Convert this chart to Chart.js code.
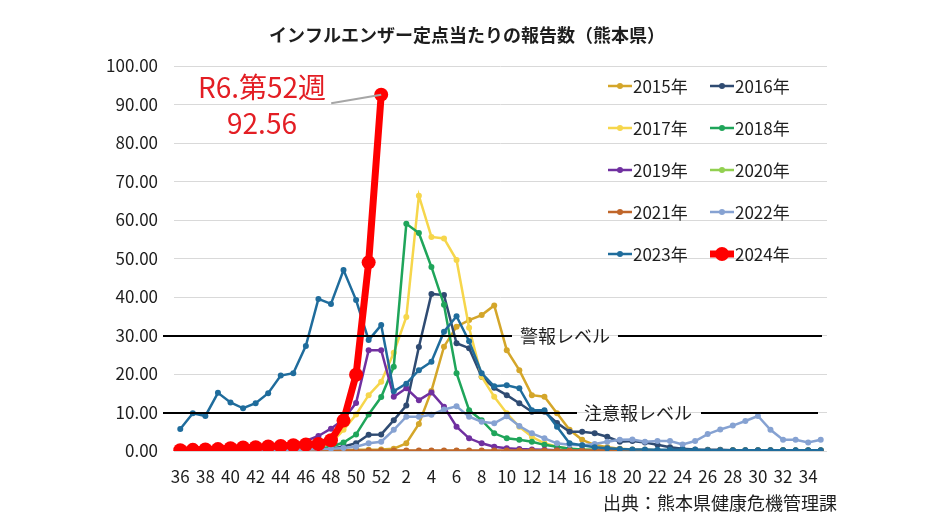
<!DOCTYPE html>
<html lang="ja">
<head>
<meta charset="utf-8">
<title>インフルエンザー定点当たりの報告数（熊本県）</title>
<script src="https://cdn.jsdelivr.net/npm/chart.js@4.4.1/dist/chart.umd.min.js"></script>
<style>
html,body{margin:0;padding:0;background:#ffffff;}
#wrap{position:relative;width:934px;height:525px;}
</style>
</head>
<body>
<div id="wrap"><canvas id="c"></canvas></div>
<script>
// ---------------- DATA ----------------
const TITLE = 'インフルエンザー定点当たりの報告数（熊本県）';
const SOURCE = '出典：熊本県健康危機管理課';
const weeks = [36,37,38,39,40,41,42,43,44,45,46,47,48,49,50,51,52,
  1,2,3,4,5,6,7,8,9,10,11,12,13,14,15,16,17,18,19,20,21,22,23,24,25,26,27,28,29,30,31,32,33,34,35];
const seriesNames = ['2015年','2016年','2017年','2018年','2019年','2020年','2021年','2022年','2023年','2024年'];

const y2015 = [0.1,0.1,0.1,0.1,0.1,0.1,0.1,0.1,0.1,0.1,0.1, 0.2,0.2,0.2,0.3,0.3,0.4,
  0.6,2.0,7.0,15.6,27.1,32.3,34.0,35.3,37.8,26.2,
  21.0,14.5,14.1,9.8,5.5,2.9,1.6,1.0,0.6,0.4,
  0.3,0.2,0.2,0.1,0.1,0.1,0.1,0.1,0.1,0.1, 0.1,0.1,0.1,0.1,0.1];
const y2016 = [0.1,0.1,0.1,0.1,0.1,0.1,0.1,0.2,0.2,0.2,0.3, 0.4,0.6,1.2,2.0,4.2,4.3,
  8.0,11.8,27.0,40.8,40.5,28.0,26.7,19.3,16.4,14.5,
  12.4,10.2,10.2,7.3,5.0,5.0,4.6,3.7,2.4,2.6,
  2.2,1.6,1.0,0.6,0.4,0.3,0.3,0.2,0.2,0.2, 0.2,0.2,0.1,0.1,0.1];
const y2017 = [0.1,0.1,0.1,0.1,0.1,0.1,0.2,0.2,0.3,0.4,0.6, 1.0,2.0,5.5,9.5,14.5,18.0,
  25.5,34.8,66.3,55.6,55.2,49.6,32.0,19.3,14.1,9.8,
  6.3,3.7,2.0,1.1,0.6,0.4,0.3,0.2,0.2,0.1,
  0.1,0.1,0.1,0.1,0.1,0.1,0.1,0.1,0.1,0.1, 0.1,0.1,0.1,0.1,0.1];
const y2018 = [0.1,0.1,0.1,0.1,0.1,0.1,0.1,0.2,0.2,0.2,0.3, 0.5,1.1,2.2,4.3,9.5,14.0,
  21.9,59.0,56.6,47.8,38.0,20.2,10.6,8.0,4.6,3.3,
  2.9,2.4,1.6,1.1,0.6,0.4,0.3,0.2,0.2,0.1,
  0.1,0.1,0.1,0.1,0.1,0.1,0.1,0.1,0.1,0.1, 0.1,0.1,0.1,0.1,0.1];
const y2019 = [0.2,0.2,0.3,0.3,0.4,0.5,0.6,0.8,1.0,1.6,2.6, 3.9,5.8,8.2,12.5,26.2,26.2,
  14.1,16.3,13.2,15.2,11.5,6.3,3.3,2.0,1.1,0.7,
  0.5,0.4,0.3,0.2,0.2,0.1,0.1,0.1,0.1,0.1,
  0.0,0.0,0.0,0.0,0.0,0.0,0.0,0.0,0.0,0.0, 0.0,0.0,0.0,0.0,0.0];
const y2020 = [0.0,0.0,0.0,0.0,0.0,0.0,0.0,0.0,0.0,0.0,0.0, 0.0,0.0,0.0,0.0,0.0,0.0,
  0.0,0.0,0.0,0.0,0.0,0.0,0.0,0.0,0.0,0.0,
  0.0,0.0,0.0,0.0,0.0,0.0,0.0,0.0,0.0,0.0,
  0.0,0.0,0.0,0.0,0.0,0.0,0.0,0.0,0.0,0.0, 0.0,0.0,0.0,0.0,0.0];
const y2021 = [0.1,0.1,0.1,0.1,0.1,0.1,0.1,0.1,0.1,0.1,0.1, 0.1,0.1,0.1,0.1,0.1,0.1,
  0.1,0.1,0.1,0.1,0.1,0.1,0.1,0.1,0.1,0.1,
  0.1,0.1,0.1,0.1,0.1,0.1,0.1,0.1,0.1,0.1,
  0.1,0.1,0.1,0.1,0.1,0.1,0.1,0.1,0.1,0.1, 0.1,0.1,0.1,0.1,0.1];
const y2022 = [0.1,0.1,0.1,0.1,0.2,0.2,0.2,0.2,0.3,0.3,0.4, 0.5,0.6,0.8,1.1,2.0,2.4,
  5.5,8.9,8.9,9.4,10.8,11.6,8.9,7.6,7.2,9.0,
  6.5,4.6,3.3,2.0,1.6,1.5,1.8,2.4,2.9,3.0,
  2.4,2.6,2.6,1.7,2.6,4.4,5.6,6.6,7.8,9.1, 5.5,2.9,2.9,2.2,2.9];
const y2023 = [5.7,9.8,9.1,15.1,12.6,11.1,12.4,15.0,19.6,20.2,27.3, 39.5,38.2,47.0,39.2,28.8,32.7,
  15.5,17.5,21.0,23.2,31.0,35.0,28.5,20.2,16.8,17.1,
  16.3,10.6,10.6,6.3,2.0,1.5,1.0,0.7,0.5,0.4,
  0.4,0.3,0.3,0.3,0.3,0.2,0.2,0.2,0.2,0.2, 0.2,0.2,0.2,0.2,0.2];
const y2024 = [0.2,0.3,0.4,0.5,0.7,0.9,1.0,1.2,1.3,1.5,1.7, 1.8,2.8,7.9,19.8,49.0,92.56];

const ALERT_LEVEL = 30;
const ALERT_LABEL = '警報レベル';
const WARN_LEVEL = 10;
const WARN_LABEL = '注意報レベル';
const NOTE_LINE1 = 'R6.第52週';
const NOTE_LINE2 = '92.56';

// ---------------- STYLE ----------------
const FONT = '"Noto Sans CJK JP", "Noto Sans", sans-serif';
const TEXT = '#1e1e1e';
const seriesValues = [y2015,y2016,y2017,y2018,y2019,y2020,y2021,y2022,y2023,y2024];
const seriesColors = ['#D4A62A','#2F4B72','#F6D64B','#1FA55A','#7030A0','#92D050','#C0662A','#86A2D2','#1F6C9C','#FF0000'];

const datasets = seriesNames.map((name, i) => {
  const big = i === seriesNames.length - 1;
  return {
    label: name,
    data: seriesValues[i],
    borderColor: seriesColors[i],
    backgroundColor: seriesColors[i],
    pointBackgroundColor: seriesColors[i],
    pointBorderColor: seriesColors[i],
    borderWidth: big ? 7 : 2.5,
    pointRadius: big ? 7 : 3,
    pointBorderWidth: 0,
    tension: 0,
    order: seriesNames.length - 1 - i
  };
});

const overlay = {
  id: 'overlay',
  afterDatasetsDraw(chart) {
    const ctx = chart.ctx;
    const ys = chart.scales.y, xs = chart.scales.x;
    ctx.save();
    // reference levels
    ctx.strokeStyle = '#000';
    ctx.lineWidth = 2;
    ctx.font = '18px ' + FONT;
    ctx.fillStyle = TEXT;
    ctx.textBaseline = 'middle';
    ctx.textAlign = 'left';
    const seg = (x1, x2, y) => { ctx.beginPath(); ctx.moveTo(x1, y); ctx.lineTo(x2, y); ctx.stroke(); };
    const yA = Math.round(ys.getPixelForValue(ALERT_LEVEL));
    const wA = ctx.measureText(ALERT_LABEL).width;
    seg(163, 512, yA); ctx.fillText(ALERT_LABEL, 520, yA); seg(520 + wA + 8, 822, yA);
    const yW = Math.round(ys.getPixelForValue(WARN_LEVEL));
    const wW = ctx.measureText(WARN_LABEL).width;
    seg(163, 577, yW); ctx.fillText(WARN_LABEL, 584, yW); seg(584 + wW + 9, 818, yW);

    // legend (2 columns x 5 rows, inside plot)
    ctx.font = '17px ' + FONT;
    chart.data.datasets.forEach((ds, i) => {
      const col = i % 2, row = Math.floor(i / 2);
      const x = 608 + col * 102, y = 86 + row * 42;
      ctx.strokeStyle = ds.borderColor;
      ctx.fillStyle = ds.borderColor;
      ctx.lineWidth = ds.borderWidth;
      seg(x, x + 24, y);
      ctx.beginPath(); ctx.arc(x + 12, y, ds.pointRadius, 0, Math.PI * 2); ctx.fill();
      ctx.fillStyle = TEXT;
      ctx.fillText(ds.label, x + 25, y + 1);
    });

    // annotation of latest value
    const last = y2024.length - 1;
    const px = xs.getPixelForValue(last), py = ys.getPixelForValue(y2024[last]);
    ctx.strokeStyle = '#A6A6A6';
    ctx.lineWidth = 2;
    ctx.beginPath(); ctx.moveTo(px - 50, py + 8.5); ctx.lineTo(px, py); ctx.stroke();
    ctx.fillStyle = '#E31E24';
    ctx.font = '28px ' + FONT;
    ctx.textAlign = 'center';
    ctx.fillText(NOTE_LINE1, 262, 87);
    ctx.fillText(NOTE_LINE2, 262, 123);

    // title & source
    ctx.fillStyle = TEXT;
    ctx.font = 'bold 18px ' + FONT;
    ctx.fillText(TITLE, 467, 35);
    ctx.font = '18px ' + FONT;
    ctx.textAlign = 'left';
    ctx.fillText(SOURCE, 603, 503);
    ctx.restore();
  }
};

new Chart(document.getElementById('c'), {
  type: 'line',
  data: { labels: weeks, datasets },
  plugins: [overlay],
  options: {
    responsive: true,
    maintainAspectRatio: false,
    animation: false,
    layout: { padding: { top: 66, left: 0, right: 107, bottom: 34 } },
    plugins: { legend: { display: false }, title: { display: false }, tooltip: { enabled: false } },
    scales: {
      x: {
        type: 'category',
        offset: true,
        grid: { display: false, drawTicks: false },
        border: { display: false },
        ticks: {
          autoSkip: false, maxRotation: 0, minRotation: 0, padding: 15,
          color: TEXT, font: { family: FONT, size: 17 },
          callback: function (v, idx) { return idx % 2 === 0 ? String(weeks[idx]) : ''; }
        },
        afterFit: (s) => { s.height = 40; }
      },
      y: {
        min: 0, max: 100,
        grid: { color: '#D9D9D9', lineWidth: 1, drawTicks: false },
        border: { display: false },
        ticks: {
          stepSize: 10, padding: 16, color: TEXT, font: { family: FONT, size: 17 },
          callback: (v) => Number(v).toFixed(2)
        },
        afterFit: (s) => { s.width = 174; }
      }
    }
  }
});
</script>
</body>
</html>
